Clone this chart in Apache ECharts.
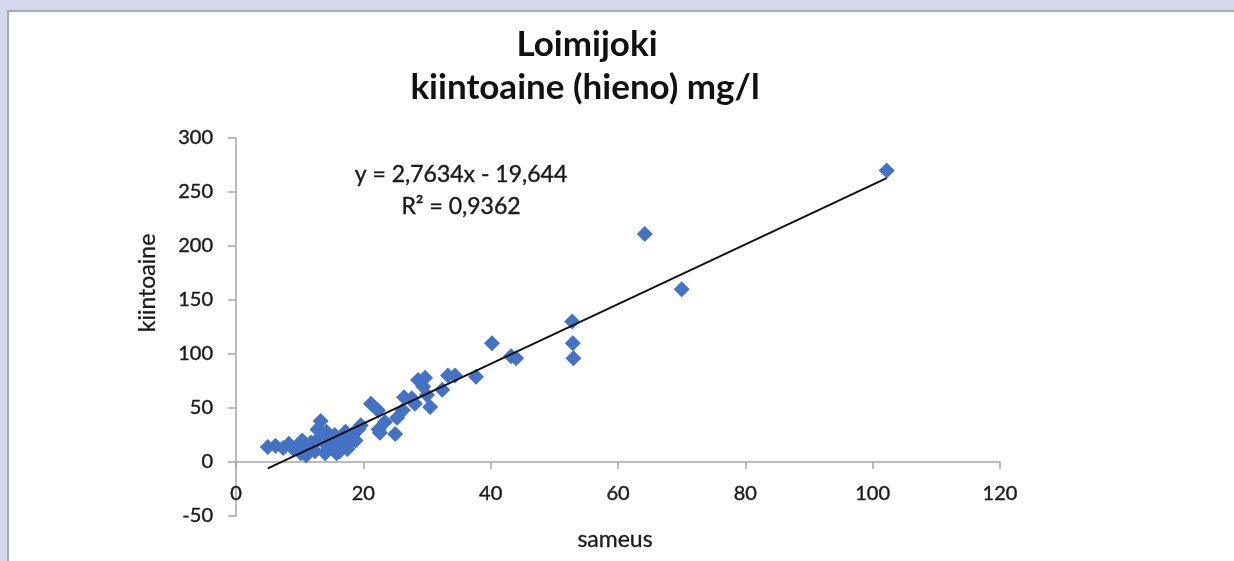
<!DOCTYPE html>
<html><head><meta charset="utf-8">
<script src="https://cdn.jsdelivr.net/npm/echarts@6/dist/echarts.min.js"></script>
<style>
html,body{margin:0;padding:0;background:#d4d9ee;width:1234px;height:561px;overflow:hidden;}
#panel{position:absolute;left:7px;top:10px;right:0;bottom:0;background:#fff;border-top:2px solid #a9abb3;border-left:2px solid #a9abb3;}
#c{position:absolute;left:0;top:0;width:1234px;height:561px;}
</style></head><body>
<div id="panel"></div>
<div id="c"></div>
<script>
const titleLines = ['Loimijoki', 'kiintoaine (hieno) mg/l'];
const xName = 'sameus';
const yName = 'kiintoaine';
const equationText = ['y = 2,7634x - 19,644', 'R² = 0,9362'];
const trendCoef = [2.7634, -19.644]; // slope, intercept
const xTicks = [0, 120, 20];   // min, max, interval
const yTicks = [-50, 300, 50];

const sameus = [
  5.0, 6.2, 7.4, 8.3, 9.0, 9.8, 10.4, 10.2, 11.0, 11.5, 12.0, 12.4, 12.8, 13.3, 13.0, 13.8,
  14.2, 14.5, 15.0, 15.5, 16.0, 16.3, 16.8, 17.2, 17.5, 18.0, 18.3, 18.8, 19.2, 19.6, 14.0, 15.8,
  11.8, 13.5, 16.5,
  21.2, 22.3, 22.4, 22.6, 23.4, 25.0, 25.3, 26.2, 26.4, 27.6, 28.6, 29.7, 29.4, 30.0, 28.1,
  30.5, 32.4, 33.3, 34.4, 37.7, 40.2, 43.2, 44.0, 52.8, 52.9, 53.0, 64.2, 70.0, 102.2
];
const kiintoaine = [
  14, 15, 13, 17, 12, 16, 20, 8, 6, 12, 15, 10, 30, 38, 22, 18,
  28, 12, 20, 25, 15, 10, 22, 28, 12, 18, 26, 20, 30, 34, 8, 8,
  18, 24, 14,
  54, 48, 30, 27, 37, 26, 41, 48, 60, 59, 76, 78, 70, 62, 54,
  51, 67, 80, 80, 79, 110, 98, 96, 130, 110, 96, 211, 160, 270
];

const points = sameus.map((x, i) => [x, kiintoaine[i]]);
const xMin = Math.min(...sameus), xMax = Math.max(...sameus);
const trend = [[xMin, trendCoef[0]*xMin + trendCoef[1]], [xMax, trendCoef[0]*xMax + trendCoef[1]]];

const font = 'Lato, "Open Sans", sans-serif';
const labelStyle = {color: '#1a1a1a', fontSize: 20, fontFamily: font, textBorderColor: '#1a1a1a', textBorderWidth: 0.4};
const chart = echarts.init(document.getElementById('c'), null, {renderer: 'canvas'});
chart.setOption({
  backgroundColor: 'transparent',
  animation: false,
  grid: {left: 236, right: 234, top: 138, bottom: 45, containLabel: false},
  xAxis: {
    type: 'value', min: xTicks[0], max: xTicks[1], interval: xTicks[2],
    axisLine: {onZero: true, lineStyle: {color: '#a6a6a6', width: 1.5}},
    axisTick: {show: true, inside: false, length: 7, lineStyle: {color: '#a6a6a6', width: 1.5}},
    axisLabel: Object.assign({margin: -32}, labelStyle),
    splitLine: {show: false}
  },
  yAxis: {
    type: 'value', min: yTicks[0], max: yTicks[1], interval: yTicks[2],
    axisLine: {show: true, onZero: false, lineStyle: {color: '#a6a6a6', width: 1.5}},
    axisTick: {show: true, inside: false, length: 8, lineStyle: {color: '#a6a6a6', width: 1.5}},
    axisLabel: Object.assign({margin: 23}, labelStyle),
    splitLine: {show: false}
  },
  series: [
    {
      type: 'scatter', data: points, symbol: 'diamond', symbolSize: 16,
      itemStyle: {color: '#4472c4', opacity: 1}, z: 2
    },
    {
      type: 'line', data: trend, symbol: 'none', z: 3,
      lineStyle: {color: '#111', width: 2}
    }
  ],
  graphic: [
    {type: 'text', style: {x: 587, y: 45, text: titleLines[0], font: 'bold 35px ' + font, fill: '#111', textAlign: 'center', textVerticalAlign: 'middle'}},
    {type: 'text', style: {x: 585, y: 88, text: titleLines[1], font: 'bold 35px ' + font, fill: '#111', textAlign: 'center', textVerticalAlign: 'middle'}},
    {type: 'text', style: {x: 461, y: 175, text: equationText[0], font: '23px ' + font, fill: '#1a1a1a', stroke: '#1a1a1a', lineWidth: 0.4, textAlign: 'center', textVerticalAlign: 'middle'}},
    {type: 'text', style: {x: 461, y: 207, text: equationText[1], font: '23px ' + font, fill: '#1a1a1a', stroke: '#1a1a1a', lineWidth: 0.4, textAlign: 'center', textVerticalAlign: 'middle'}},
    {type: 'text', style: {x: 615, y: 540, text: xName, font: '23px ' + font, fill: '#1a1a1a', stroke: '#1a1a1a', lineWidth: 0.3, textAlign: 'center', textVerticalAlign: 'middle'}},
    {type: 'text', x: 148, y: 283, rotation: Math.PI/2, style: {x: 0, y: 0, text: yName, font: '23px ' + font, fill: '#1a1a1a', stroke: '#1a1a1a', lineWidth: 0.3, textAlign: 'center', textVerticalAlign: 'middle'}}
  ]
});
</script>
</body></html>
